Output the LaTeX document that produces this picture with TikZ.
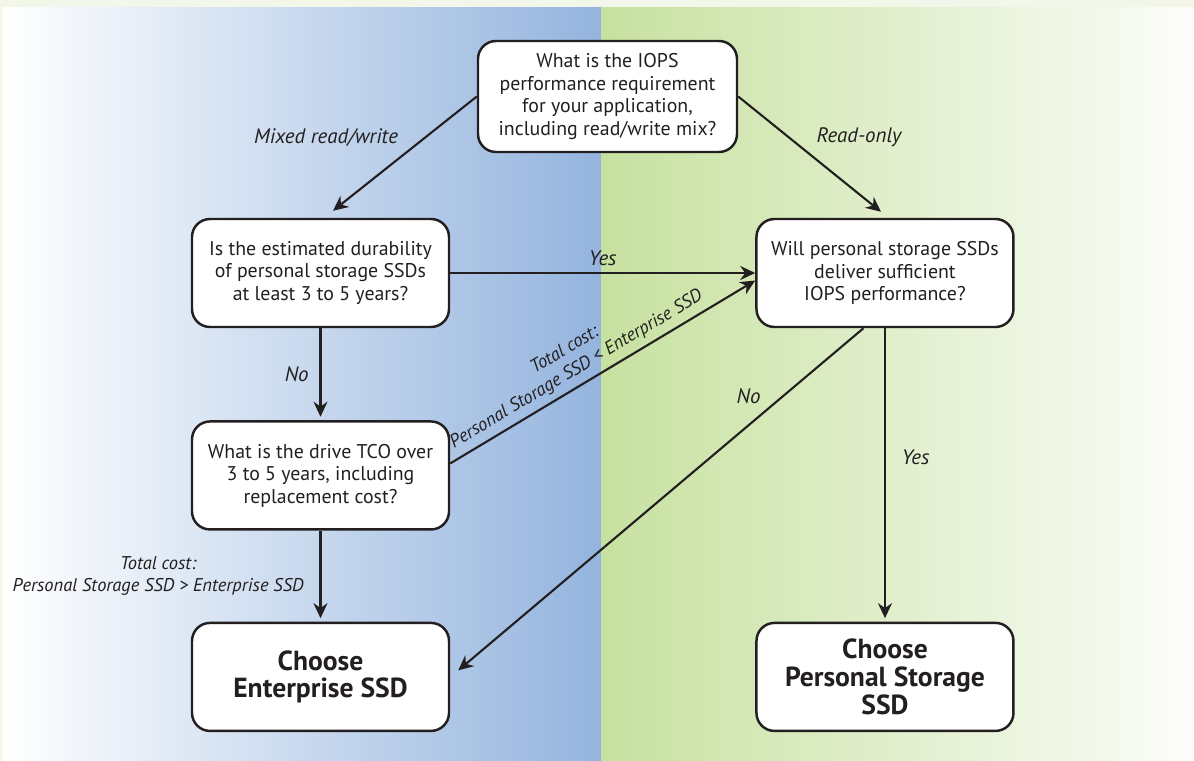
\documentclass[tikz,border=0pt]{standalone}
\usepackage{fontspec}
\setmainfont{PT Sans}
\usepackage{tikz}
\usetikzlibrary{positioning, arrows.meta, calc}

\definecolor{framegreen}{HTML}{F3F7EA}
\definecolor{panelblue}{HTML}{94B4DE}
\definecolor{panelgreen}{HTML}{C7E1A0}
\definecolor{panelwhite}{HTML}{FCFDFA}
\definecolor{inkgray}{HTML}{231F20}

\begin{document}
\begin{tikzpicture}[
        block/.style={draw=inkgray, rectangle, rounded corners=0.36cm, line width=1.4pt, fill=white,
            minimum width=5.14cm, minimum height=2.16cm, align=center, text=inkgray,
            font=\fontsize{11.3}{12.8}\selectfont},
        final/.style={block, font=\fontsize{15.7}{15.8}\selectfont\bfseries},
        lbl/.style={text=inkgray, align=center, font=\fontsize{11.9}{13}\selectfont\itshape},
        cost/.style={lbl, font=\fontsize{10.5}{12.8}\selectfont\itshape},
        line/.style={draw=inkgray, line width=1.2pt, ->},
        node distance=1.9cm, >={Stealth[length=0.3cm, width=0.28cm]}]

        % Fundo
        \fill[framegreen] (0,0) rectangle (23.88,-15.22);
        \shade[left color=white, right color=panelblue] (0.06,-0.16) rectangle (12.02,-15.22);
        \shade[left color=panelgreen, right color=panelwhite] (12.02,-0.16) rectangle (23.88,-15.22);

        % Caixas
        \node (q) [block, minimum width=5.18cm, minimum height=2.22cm] at (12.15,-1.93)
            {What is the IOPS\\performance requirement\\for your application,\\including read/write mix?};
        \node (dur) [block] at (6.41,-5.46)
            {Is the estimated durability\\of personal storage SSDs\\at least 3 to 5 years?};
        \node (perf) [block, right=6.1cm of dur]
            {Will personal storage SSDs\\deliver sufficient\\IOPS performance?};
        \node (tco) [block, below=1.84cm of dur]
            {What is the drive TCO over\\3 to 5 years, including\\replacement cost?};
        \node (ent) [final, below=1.82cm of tco] {Choose\\Enterprise SSD};
        \node (pers) [final] at (perf |- ent) {Choose\\Personal Storage\\SSD};

        % Conexoes
        \draw[line] (q.west) -- node[lbl, above left] {Mixed read/write} ($(dur.north)+(0.25,0.14)$);
        \draw[line] (q.east) -- node[lbl, above right] {Read-only} ($(perf.north)+(-0.08,0.12)$);
        \draw[line] (dur.east) -- node[lbl, above] {Yes} (perf.west);
        \draw[line, shorten >=2pt] (dur.south) -- node[lbl, left=0.1cm] {No} (tco.north);
        \draw[line] ($(tco.east)+(0,0.24)$) -- node[cost, pos=0.44, above, sloped]
            {Total cost:\\Personal Storage SSD < Enterprise SSD} ($(perf.west)+(0,-0.15)$);
        \draw[line, shorten >=2pt] (tco.south) -- node[cost, left=0.2cm]
            {Total cost:\\Personal Storage SSD > Enterprise SSD} (ent.north);
        \draw[line] ($(perf.south)+(-0.43,0)$) -- node[lbl, pos=0.2, left=0.3cm] {No} ($(ent.east)+(0.16,0.13)$);
        \draw[line, shorten >=2pt] (perf.south) -- node[lbl, pos=0.44, right=0.2cm] {Yes} (pers.north);
\end{tikzpicture}
\end{document}
